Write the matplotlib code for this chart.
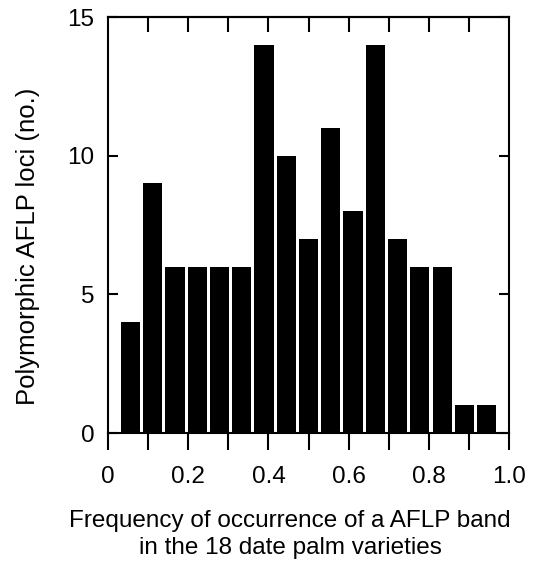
import matplotlib
matplotlib.use('Agg')
import matplotlib.pyplot as plt
import numpy as np

plt.rcParams['font.family'] = ['Liberation Sans', 'DejaVu Sans']

# number of varieties carrying a band, out of 18
n_varieties = 18
band_counts = list(range(1, 18))
loci = [4, 9, 6, 6, 6, 6, 14, 10, 7, 11, 8, 14, 7, 6, 6, 1, 1]

x_labels = ['0', '0.2', '0.4', '0.6', '0.8', '1.0']
y_ticks = [0, 5, 10, 15]

freq = np.array(band_counts) / n_varieties
fs = 17.5

fig = plt.figure(figsize=(5.49, 5.72), dpi=100)
ax = fig.add_axes([0.197, 0.243, 0.73, 0.727])

ax.bar(freq, loci, width=0.048, color='black', edgecolor='none')

ax.set_xlim(0, 1.0)
ax.set_ylim(0, 15)

for s in ax.spines.values():
    s.set_linewidth(1.5)

# bottom: outward ticks every 0.1, labels every 0.2
ax.set_xticks(np.arange(0, 1.01, 0.1))
ax.set_xticklabels([x_labels[i // 2] if i % 2 == 0 else '' for i in range(11)])
ax.tick_params(axis='x', which='major', direction='out', length=12, width=1.5,
               labelsize=fs, pad=12, top=False)

# top: inward ticks
sec = ax.secondary_xaxis('top')
sec.set_xticks(np.arange(0.1, 0.95, 0.1))
sec.set_xticklabels([])
sec.tick_params(direction='in', length=11, width=1.5)
sec.spines['top'].set_linewidth(1.5)

ax.set_yticks(y_ticks)
ax.tick_params(axis='y', direction='in', length=7, width=1.5, labelsize=fs,
               right=True, pad=10)

ax.set_ylabel('Polymorphic AFLP loci (no.)', fontsize=18.5)
ax.yaxis.set_label_coords(-0.17, 0.45)
ax.set_xlabel('Frequency of occurrence of a AFLP band\nin the 18 date palm varieties',
              fontsize=fs, linespacing=1.3)
ax.xaxis.set_label_coords(0.454, -0.185)

fig.savefig('out.png', dpi=100)
